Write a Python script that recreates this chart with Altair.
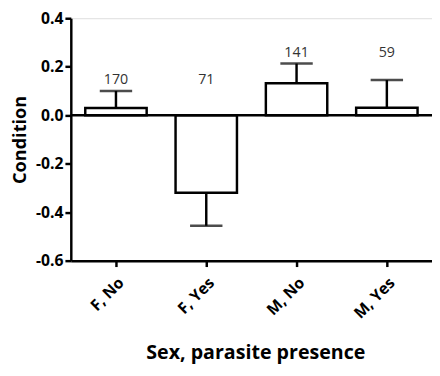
import altair as alt
import pandas as pd

groups = ["F, No", "F, Yes", "M, No", "M, Yes"]
sex = ["F", "F", "M", "M"]
means = [0.03, -0.32, 0.132, 0.031]
sems = [0.07, 0.136, 0.081, 0.114]
counts = [170, 71, 141, 59]
y_ticks = [-0.6, -0.4, -0.2, 0.0, 0.2, 0.4]

ends = [m + (s if m >= 0 else -s) for m, s in zip(means, sems)]
df = pd.DataFrame({"group": groups, "sex": sex, "mean": means, "end": ends,
                   "n": [str(c) for c in counts]})
df["top"] = df[["end"]].clip(lower=0)["end"]
df["label_y"] = df.groupby("sex")["top"].transform("max")

FONT = "Open Sans"
xs = alt.X("group:N", sort=groups,
           scale=alt.Scale(paddingInner=0.32, paddingOuter=0.16),
           axis=alt.Axis(title="Sex, parasite presence", labelAngle=-45,
                         labelFont=FONT, labelFontSize=16, labelFontWeight="bold",
                         labelColor="black", titleFont=FONT, titleFontSize=20,
                         titleFontWeight="bold", titleColor="black", titlePadding=22,
                         titleX=188,
                         domainColor="black", domainWidth=2.5, tickColor="black",
                         tickWidth=2.5, tickSize=6, labelPadding=8))
yscale = alt.Scale(domain=[-0.6, 0.4], nice=False)
yaxis = alt.Axis(title="Condition", values=y_ticks,
                 labelExpr="replace(format(datum.value, '.1f'), '\u2212', '-')",
                 grid=False, labelFont=FONT, labelFontSize=16, labelFontWeight="bold",
                 labelColor="black", titleFont=FONT, titleFontSize=18.5,
                 titleFontWeight="bold", titleColor="black", titleX=-42,
                 domainColor="black", domainWidth=2.5, tickColor="black",
                 tickWidth=2.5, tickSize=6, labelPadding=2)

base = alt.Chart(df)
bars = base.mark_bar(fill="white", stroke="black", strokeWidth=2.5).encode(
    x=xs, y=alt.Y("mean:Q", scale=yscale, axis=yaxis), y2=alt.datum(0))
err = base.mark_rule(color="black", strokeWidth=2.5).encode(
    x=alt.X("group:N", sort=groups), y="mean:Q", y2="end:Q")
caps = base.mark_tick(color="black", size=33, thickness=2.5, orient="horizontal").encode(
    x=alt.X("group:N", sort=groups), y="end:Q")
zero = alt.Chart(pd.DataFrame({"z": [0.0]})).mark_rule(color="black", strokeWidth=2.5).encode(
    y="z:Q")
labels = base.mark_text(font=FONT, fontSize=14.5, color="#333", baseline="middle", dy=-11).encode(
    x=alt.X("group:N", sort=groups), y="label_y:Q", text="n:N")

chart = alt.layer(bars, zero, err, caps, labels).properties(
    width=368, height=247,
    autosize=alt.AutoSizeParams(type="none"),
    padding={"left": 64, "top": 7, "right": 0, "bottom": 110},
).configure_view(stroke=None).configure(background="white")

chart.save("out.html", embed_options={"renderer": "svg", "actions": False})
